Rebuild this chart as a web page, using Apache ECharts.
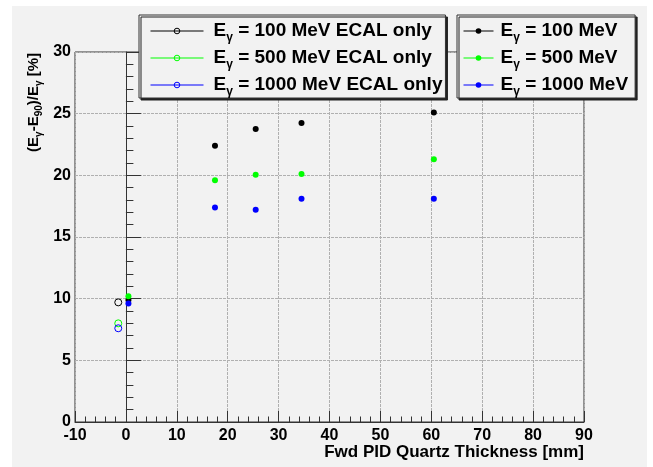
<!DOCTYPE html>
<html>
<head>
<meta charset="utf-8">
<script src="https://cdn.jsdelivr.net/npm/echarts@6/dist/echarts.min.js"></script>
<style>
  html, body { margin: 0; padding: 0; background: #ffffff; }
  #chart { width: 653px; height: 467px; }
</style>
</head>
<body>
<div id="chart"></div>
<script>
// Energy resolution (E_gamma - E_90)/E_gamma versus forward PID quartz thickness

// Quartz thickness [mm] of the full-detector points
const thickness = [0.5, 17.5, 25.5, 34.5, 60.5];
// Resolution [%] with quartz in front, per photon energy
const res100 = [9.9, 22.4, 23.75, 24.25, 25.1];
const res500 = [10.2, 19.6, 20.05, 20.1, 21.3];
const res1000 = [9.6, 17.4, 17.2, 18.1, 18.1];

// ECAL-only reference (drawn slightly left of zero thickness)
const ecalOnlyThickness = [-1.5];
const ecalOnly100 = [9.7];
const ecalOnly500 = [8.0];
const ecalOnly1000 = [7.6];

// Axis ticks
const xTicks = { min: -10, max: 90, step: 10 };
const yTicks = { min: 0, max: 30, step: 5 };

const BLACK = '#000000';
const GREEN = '#00ff00';
const BLUE = '#0000ff';
const FONT = '"Liberation Sans", Arial, Helvetica, sans-serif';

const namesOpen = [
  'Eγ = 100 MeV ECAL only',
  'Eγ = 500 MeV ECAL only',
  'Eγ = 1000 MeV ECAL only'
];
const namesFilled = ['Eγ = 100 MeV', 'Eγ = 500 MeV', 'Eγ = 1000 MeV'];

function pairs(xs, ys) {
  return ys.map((y, i) => [xs[Math.min(i, xs.length - 1)], y]);
}

function markerSeries(name, xs, ys, color, open, z) {
  return {
    type: 'line',
    name: name,
    data: pairs(xs, ys),
    symbol: 'circle',
    symbolSize: open ? 7 : 6,
    showAllSymbol: true,
    lineStyle: { color: color, opacity: 0 },
    itemStyle: open
      ? { color: 'rgba(0,0,0,0)', borderColor: color, borderWidth: 1 }
      : { color: color, borderWidth: 0 },
    emphasis: { disabled: true },
    z: z,
    animation: false
  };
}

function legendItem(name, color, open) {
  return {
    name: name,
    itemStyle: open
      ? { color: 'rgba(0,0,0,0)', borderColor: color, borderWidth: 1 }
      : { color: color, borderWidth: 0 },
    lineStyle: { color: color, width: 1, opacity: 1, type: 'solid' }
  };
}

// "Eγ = ..." → E with subscript gamma
function legendLabel(name) {
  const rest = name.slice(2);
  return '{e|E}{s|γ}{t|' + rest + '}';
}

function legendRich(lead) {
  return {
    e: { fontSize: 19, fontWeight: 'bold', fontFamily: FONT, color: '#000', lineHeight: 22, padding: [0, 0, 0, lead] },
    s: { fontSize: 12, fontWeight: 'bold', fontFamily: FONT, color: '#000', lineHeight: 22, padding: [14, 0, 0, 0] },
    t: { fontSize: 19, fontWeight: 'bold', fontFamily: FONT, color: '#000', lineHeight: 22 }
  };
}

const legendBox = {
  orient: 'vertical',
  top: 15,
  itemHeight: 7,
  itemGap: 1,
  backgroundColor: '#f2f2f2',
  borderColor: '#333333',
  borderWidth: 1,
  borderRadius: 0,
  shadowColor: '#222222',
  shadowBlur: 0,
  shadowOffsetX: 2,
  shadowOffsetY: 2,
  selectedMode: false,
  formatter: legendLabel
};

const chart = echarts.init(document.getElementById('chart'), null, { renderer: 'canvas' });

chart.setOption({
  backgroundColor: '#ffffff',
  animation: false,
  graphic: [{
    type: 'rect',
    silent: true,
    z: -10,
    shape: { x: 12, y: 6, width: 635, height: 461 },
    style: { fill: '#f2f2f2' }
  }, {
    // vertical axis title, reading upward, ending at the top of the frame
    type: 'text',
    silent: true,
    x: 34,
    y: 53,
    rotation: Math.PI / 2,
    style: {
      text: '{p|(E}{s|γ}{p|-E}{s|90}{p|)/E}{s|γ}{p| [%]}',
      align: 'right',
      verticalAlign: 'middle',
      rich: {
        p: { fontSize: 15, fontWeight: 'bold', fontFamily: FONT, fill: '#000', lineHeight: 18 },
        s: { fontSize: 10, fontWeight: 'bold', fontFamily: FONT, fill: '#000', lineHeight: 18, padding: [10, 0, 0, 0] }
      }
    }
  }],
  grid: {
    left: 75, top: 52, right: 69, bottom: 45,
    show: true,
    borderColor: '#333333',
    borderWidth: 1,
    backgroundColor: 'transparent',
    outerBoundsMode: 'none'
  },
  xAxis: {
    type: 'value',
    min: xTicks.min, max: xTicks.max, interval: xTicks.step,
    axisLine: { show: true, onZero: false, lineStyle: { color: '#333333', width: 1 } },
    axisTick: { show: true, inside: true, length: 11, lineStyle: { color: '#333333' } },
    minorTick: { show: true, splitNumber: 5, length: 5.5, lineStyle: { color: '#333333' } },
    splitLine: { show: true, lineStyle: { color: '#b0b0b0', type: [3, 1], width: 1 } },
    axisLabel: { fontSize: 16, fontWeight: 'bold', fontFamily: FONT, color: '#000', margin: 6 },
    name: 'Fwd PID Quartz Thickness [mm]',
    nameLocation: 'end',
    nameGap: 0,
    nameMoveOverlap: false,
    nameTextStyle: {
      fontSize: 17, fontWeight: 'bold', fontFamily: FONT, color: '#000',
      align: 'right', verticalAlign: 'top', lineHeight: 20, padding: [20, 0, 0, 0]
    }
  },
  yAxis: {
    type: 'value',
    min: yTicks.min, max: yTicks.max, interval: yTicks.step,
    axisLine: { show: true, lineStyle: { color: '#333333', width: 1 } },
    axisTick: { show: true, inside: true, length: 15, lineStyle: { color: '#333333' } },
    minorTick: { show: true, splitNumber: 5, length: 7.5, lineStyle: { color: '#333333' } },
    splitLine: { show: true, lineStyle: { color: '#b0b0b0', type: [3, 1], width: 1 } },
    axisLabel: { fontSize: 16, fontWeight: 'bold', fontFamily: FONT, color: '#000', margin: 4 }
  },
  legend: [
    Object.assign({}, legendBox, {
      left: 139,
      padding: [3, 3, 0, 11],
      itemWidth: 53,
      textStyle: { rich: legendRich(5) },
      data: [
        legendItem(namesOpen[0], BLACK, true),
        legendItem(namesOpen[1], GREEN, true),
        legendItem(namesOpen[2], BLUE, true)
      ]
    }),
    Object.assign({}, legendBox, {
      left: 457,
      padding: [3, 7, 0, 6],
      itemWidth: 30,
      textStyle: { rich: legendRich(2) },
      data: [
        legendItem(namesFilled[0], BLACK, false),
        legendItem(namesFilled[1], GREEN, false),
        legendItem(namesFilled[2], BLUE, false)
      ]
    })
  ],
  series: [
    markerSeries(namesOpen[0], ecalOnlyThickness, ecalOnly100, BLACK, true, 2),
    markerSeries(namesOpen[1], ecalOnlyThickness, ecalOnly500, GREEN, true, 3),
    markerSeries(namesOpen[2], ecalOnlyThickness, ecalOnly1000, BLUE, true, 4),
    markerSeries(namesFilled[0], thickness, res100, BLACK, false, 5),
    markerSeries(namesFilled[1], thickness, res500, GREEN, false, 6),
    markerSeries(namesFilled[2], thickness, res1000, BLUE, false, 7)
  ]
});
</script>
</body>
</html>
